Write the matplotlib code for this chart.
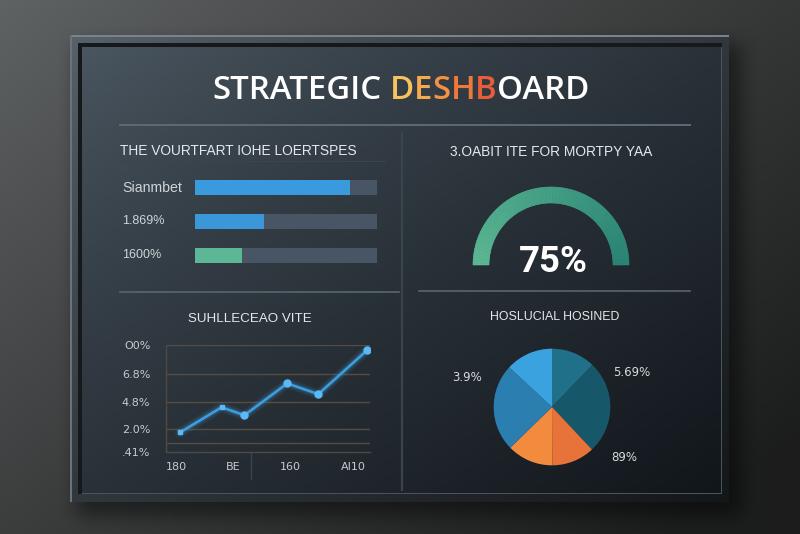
import numpy as np
import matplotlib
matplotlib.use("Agg")
import matplotlib.pyplot as plt
from matplotlib.patches import Wedge
from matplotlib.colors import to_rgb
from matplotlib.transforms import blended_transform_factory

# ---------------- data ----------------
title_plain = "STRATEGIC "
title_accent = "DESHB"
title_tail = "OARD"
accent_colors = ["#f7c35f", "#f5aa4e", "#f39243", "#f0793a", "#e95e38"]

bar_title = "THE VOURTFART IOHE LOERTSPES"
bar_labels = ["Sianmbet", "1.869%", "1600%"]
bar_values = [85, 38, 26]
bar_max = 100
bar_colors = ["#3a9ade", "#3a98d9", "#5bb795"]

gauge_title = "3.OABIT ITE FOR MORTPY YAA"
gauge_value = 75

line_title = "SUHLLECEAO VITE"
line_x = [0.7, 2.74, 3.85, 5.95, 7.47, 9.87]
line_y = [1.85, 4.2, 3.45, 6.42, 5.42, 9.53]
line_yticks = [0, 2.2, 4.7, 7.3, 10]
line_yticklabels = [".41%", "2.0%", "4.8%", "6.8%", "O0%"]
line_grid = [0.85, 2.2, 4.7, 7.3, 10]
line_xticks = [0.5, 3.3, 6.1, 9.2]
line_xticklabels = ["180", "BE", "160", "AI10"]

pie_title = "HOSLUCIAL HOSINED"
pie_values = [12.2, 25.8, 11.9, 12.8, 24.2, 13.1]
pie_colors = ["#20708a", "#17576a", "#e8733a", "#f28b3d", "#2b7eb0", "#3aa3df"]
pie_notes = ["3.9%", "5.69%", "89%"]

# ---------------- figure ----------------
W, H = 800, 534
fig = plt.figure(figsize=(8, 5.34), dpi=100)
bg = fig.add_axes([0, 0, 1, 1])
bg.set_xlim(0, W)
bg.set_ylim(H, 0)
bg.axis("off")


def rect(x0, y0, x1, y1):
    return [x0 / W, 1 - y1 / H, (x1 - x0) / W, (y1 - y0) / H]


def lerp(c0, c1, t):
    c0 = np.array(to_rgb(c0))
    c1 = np.array(to_rgb(c1))
    return c0 + (c1 - c0) * np.clip(t, 0, 1)[..., None]


def box_blur(a, r):
    for axis in (0, 1):
        pad = [(r + 1, r) if i == axis else (0, 0) for i in range(2)]
        b = np.pad(a, pad, mode="edge")
        c = np.cumsum(b, axis=axis)
        if axis == 0:
            a = (c[2 * r + 1:] - c[:-2 * r - 1]) / (2 * r + 1)
        else:
            a = (c[:, 2 * r + 1:] - c[:, :-2 * r - 1]) / (2 * r + 1)
    return a


yy, xx = np.mgrid[0:H, 0:W] + 0.5
# wall
t = 0.6 * xx / W + 0.5 * yy / H
img = lerp("#606364", "#1c1d1d", t ** 0.9)
# shadow
sh = ((xx > 76) & (xx < 742) & (yy > 44) & (yy < 516)).astype(float)
sh = box_blur(box_blur(sh, 10), 10)
img *= (1 - 0.45 * sh)[..., None]


def inside(x0, y0, x1, y1):
    return (xx >= x0) & (xx < x1) & (yy >= y0) & (yy < y1)


# frame
m = inside(70, 35, 729, 502)
tf = 0.5 * (xx - 70) / 659 + 0.5 * (yy - 35) / 467
img[m] = lerp("#59636c", "#14171a", tf ** 0.8)[m]
img[inside(70, 35, 729, 37)] = to_rgb("#7a838a")
img[inside(70, 35, 72, 502)] = to_rgb("#6a737a")
img[inside(78, 43, 722, 494)] = to_rgb("#15191c")
# screen
ms = inside(82, 47, 721, 493)
ts = 0.5 * (xx - 82) / 639 + 0.5 * (yy - 47) / 446
img[ms] = lerp("#4b5761", "#11161b", ts ** 0.8)[ms]
img[inside(82, 493, 722, 494)] = to_rgb("#4b545a")
img[inside(721, 47, 722, 494)] = to_rgb("#4b545a")

bg.imshow(img, extent=(0, W, H, 0), interpolation="nearest", aspect="auto", zorder=0)

# separators
bg.plot([120, 690], [125, 125], color="#5e6a72", lw=1.4, zorder=1)
bg.plot([120, 385], [161, 161], color="#3a454d", lw=0.8, zorder=1)
bg.plot([402, 402], [132, 490], color="#3a444b", lw=1.6, zorder=1)
bg.plot([120, 399], [291.5, 291.5], color="#5a656c", lw=1.2, zorder=1)
bg.plot([419, 690], [290.5, 290.5], color="#5a656c", lw=1.2, zorder=1)
bg.plot([251, 251], [453, 479], color="#3a444b", lw=1.0, zorder=1)

fig.canvas.draw()
rend = fig.canvas.get_renderer()


def fit_text(ax, x, y, s, width, size0=10, **kw):
    tx = ax.text(x, y, s, fontsize=size0, **kw)
    w = tx.get_window_extent(rend).width
    tx.set_fontsize(size0 * width / w)
    return tx


# ---- main title ----
full = title_plain + title_accent + title_tail
tfont = dict(family="Open Sans", weight="semibold")
probe = fit_text(bg, 0, 0, full, 376, **tfont)
fs = probe.get_fontsize()
probe.remove()
x0, base = 212, 99


def width_of(s):
    tx = bg.text(0, 0, s, fontsize=fs, **tfont)
    w = tx.get_window_extent(rend).width
    tx.remove()
    return w


bg.text(x0, base, title_plain.strip(), fontsize=fs, color="white", ha="left",
        va="baseline", zorder=3, **tfont)
for i, ch in enumerate(title_accent):
    pre = title_plain + title_accent[: i + 1]
    xp = x0 + width_of(pre) - width_of(ch)
    bg.text(xp, base, ch, fontsize=fs, color=accent_colors[i], ha="left",
            va="baseline", zorder=3, **tfont)
pre = title_plain + title_accent + title_tail
xp = x0 + width_of(pre) - width_of(title_tail)
bg.text(xp, base, title_tail, fontsize=fs, color="white", ha="left",
        va="baseline", zorder=3, **tfont)

# ---- panel titles ----
pfont = dict(family="Liberation Sans", color="#e4e8ea", va="baseline", zorder=3)
fit_text(bg, 120, 155, bar_title, 238, ha="left", **pfont)
fit_text(bg, 551, 156.5, gauge_title, 203, ha="center", **pfont)
fit_text(bg, 250, 322, line_title, 124, ha="center", **pfont)
fit_text(bg, 554.5, 320, pie_title, 129, ha="center", **pfont)

# ---- bars ----
axb = fig.add_axes(rect(195, 170.5, 377, 272.5))
axb.axis("off")
ypos = np.arange(len(bar_values))
axb.barh(ypos, [bar_max] * len(bar_values), height=0.44, color="#485564")
axb.barh(ypos, bar_values, height=0.44, color=bar_colors)
axb.set_xlim(0, bar_max)
axb.set_ylim(2.5, -0.5)
trb = blended_transform_factory(axb.transAxes, axb.transData)
for yv, lab in zip(ypos, bar_labels):
    axb.text(-73 / 182, yv, lab, transform=trb, ha="left", va="center",
             color="#cfd4d7", family="Liberation Sans",
             fontsize=9 if "%" in lab else 10.2)

# ---- gauge ----
axg = fig.add_axes(rect(461, 175, 641, 355))
axg.axis("off")
axg.set_xlim(-1.125, 1.125)
axg.set_ylim(-1.125, 1.125)
N = 150
angs = np.linspace(180, 0, N + 1)
cols = lerp("#5dba95", "#2a8676", np.linspace(0, 1, N))
for k in range(N):
    axg.add_patch(Wedge((0, 0), 0.975, angs[k + 1], angs[k], width=0.2,
                        facecolor=cols[k], edgecolor=cols[k], lw=0.4))
gt = fit_text(axg, 0.03, -0.09, f"{gauge_value}%", 69, ha="center", va="baseline",
              color="white", family="Roboto", weight="bold")

# ---- line chart ----
axl = fig.add_axes(rect(165.7, 345, 370, 452.3))
axl.set_facecolor("none")
axl.set_xlim(0, 10)
axl.set_ylim(0, 10)
for sp in ["top", "right"]:
    axl.spines[sp].set_visible(False)
for sp in ["left", "bottom"]:
    axl.spines[sp].set_color("#4e4a44")
    axl.spines[sp].set_linewidth(1.0)
axl.hlines(line_grid, 0, 10, color="#554d43", lw=1.0, zorder=1)
axl.set_yticks(line_yticks)
axl.set_yticklabels(line_yticklabels)
axl.set_xticks(line_xticks)
axl.set_xticklabels(line_xticklabels)
axl.tick_params(length=0, colors="#c5cacd", labelsize=8)
axl.tick_params(axis="y", pad=11)
axl.tick_params(axis="x", pad=7)
for w, a in [(7, 0.10), (4, 0.2)]:
    axl.plot(line_x, line_y, color="#3ea6ee", lw=w, alpha=a, solid_capstyle="round", zorder=2)
axl.plot(line_x, line_y, color="#3b9fe0", lw=1.8, zorder=3)
axl.plot(line_x[2:], line_y[2:], "o", color="#5bbaf5", ms=5, zorder=4)
axl.plot(line_x[:2], line_y[:2], "s", color="#5bbaf5", ms=3, zorder=4)

# ---- pie ----
axp = fig.add_axes(rect(482, 337, 622, 477))
axp.pie(pie_values, colors=pie_colors, startangle=90, counterclock=False,
        radius=1, wedgeprops=dict(linewidth=0))
axp.set_xlim(-1.2, 1.2)
axp.set_ylim(-1.2, 1.2)
axp.set_aspect("equal")
note_pos = [(-1.46, 0.50), (1.36, 0.60), (1.23, -0.87)]
for (px, py), s in zip(note_pos, pie_notes):
    axp.text(px, py, s, ha="center", va="center", color="#d5dade", fontsize=8.5,
             family="DejaVu Sans", clip_on=False)

fig.savefig("out.png", dpi=100)
